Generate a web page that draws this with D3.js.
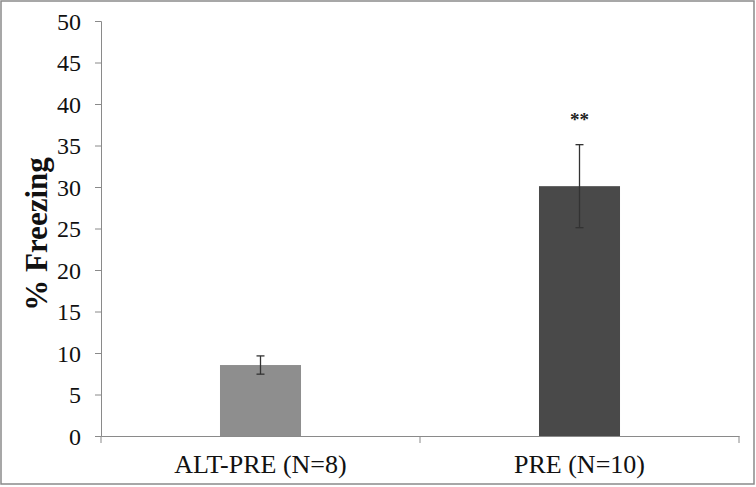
<!DOCTYPE html>
<html><head><meta charset="utf-8">
<script src="https://cdn.jsdelivr.net/npm/d3@7"></script>
<style>html,body{margin:0;padding:0;background:#fff;}svg{display:block;}</style>
</head><body>
<script>
const categories = ["ALT-PRE (N=8)", "PRE (N=10)"];
const values = [8.55, 30.1];
const errors = [1.1, 5.0];
const significance = ["", "**"];
const yTicks = [0, 5, 10, 15, 20, 25, 30, 35, 40, 45, 50];
const colors = ["#8e8e8e", "#494949"];

const W = 756, H = 487;
const m = {left: 101, right: 17, top: 21, bottom: 51};
const svg = d3.select("body").append("svg").attr("width", W).attr("height", H);
svg.append("rect").attr("x", 1).attr("y", 1).attr("width", W - 3).attr("height", H - 4)
  .attr("fill", "#fff").attr("stroke", "#8a8a8a").attr("stroke-width", 1.5);

const x = d3.scaleBand().domain(categories).range([m.left, W - m.right]);
const y = d3.scaleLinear().domain([0, 50]).range([H - m.bottom, m.top]);
const font = "'Liberation Serif', 'Times New Roman', serif";

const yAxis = svg.append("g").attr("transform", `translate(${m.left},0)`)
  .call(d3.axisLeft(y).tickValues(yTicks).tickSize(6).tickPadding(14));
yAxis.selectAll("path,line").attr("stroke", "#8a8a8a");
yAxis.selectAll("text").attr("font-family", font).attr("font-size", 24).attr("fill", "#111")
  .attr("dy", "0.34em");

const xAxis = svg.append("g").attr("transform", `translate(0,${y(0)})`)
  .call(d3.axisBottom(x).tickSize(0).tickFormat(""));
xAxis.select("path").attr("stroke", "#8a8a8a");
const bounds = [m.left, m.left + x.step(), W - m.right];
svg.selectAll(".bt").data(bounds).join("line")
  .attr("x1", d => d).attr("x2", d => d).attr("y1", y(0)).attr("y2", y(0) + 7)
  .attr("stroke", "#8a8a8a");
svg.selectAll(".xl").data(categories).join("text")
  .attr("x", d => x(d) + x.bandwidth() / 2).attr("y", y(0) + 37)
  .attr("text-anchor", "middle").attr("font-family", font).attr("font-size", 26).attr("fill", "#111")
  .text(d => d);

const bw = x.bandwidth() * 0.254;
svg.selectAll(".bar").data(categories).join("rect")
  .attr("x", d => x(d) + x.bandwidth() / 2 - bw / 2)
  .attr("y", (d, i) => y(values[i]))
  .attr("width", bw)
  .attr("height", (d, i) => y(0) - y(values[i]))
  .attr("fill", (d, i) => colors[i]);

const cap = 4;
categories.forEach((c, i) => {
  const cx = x(c) + x.bandwidth() / 2;
  const g = svg.append("g").attr("stroke", "#333").attr("stroke-width", 1.3);
  g.append("line").attr("x1", cx).attr("x2", cx).attr("y1", y(values[i] + errors[i])).attr("y2", y(values[i] - errors[i]));
  g.append("line").attr("x1", cx - cap).attr("x2", cx + cap).attr("y1", y(values[i] + errors[i])).attr("y2", y(values[i] + errors[i]));
  g.append("line").attr("x1", cx - cap).attr("x2", cx + cap).attr("y1", y(values[i] - errors[i])).attr("y2", y(values[i] - errors[i]));
  if (significance[i]) {
    svg.append("text").attr("x", cx).attr("y", y(values[i] + errors[i]) - 19)
      .attr("text-anchor", "middle").attr("font-family", font).attr("font-weight", "bold")
      .attr("font-size", 19).attr("fill", "#222").text(significance[i]);
  }
});

svg.append("text").attr("transform", `translate(47,234) rotate(-90)`)
  .attr("text-anchor", "middle").attr("font-family", font).attr("font-weight", "bold")
  .attr("font-size", 31).attr("fill", "#111").text("% Freezing");
</script>
</body></html>
